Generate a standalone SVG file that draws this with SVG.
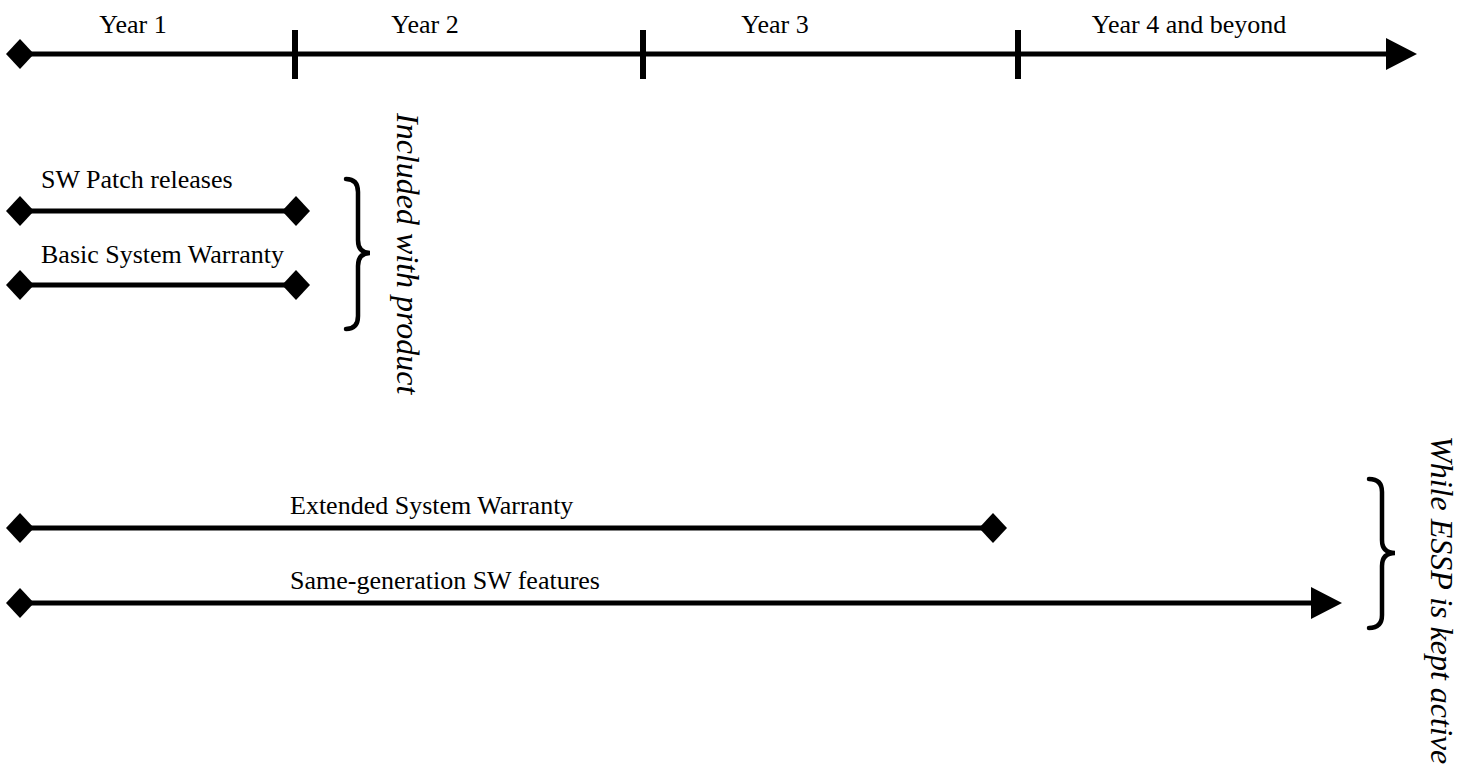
<svg xmlns="http://www.w3.org/2000/svg" width="1458" height="769" viewBox="0 0 1458 769">
<style>
.ln{stroke:#000;stroke-width:5;fill:none}
.tk{stroke:#000;stroke-width:6;fill:none}
.br{stroke:#000;stroke-width:4.5;fill:none;stroke-linecap:round}
.t{font-family:"Liberation Serif","Times New Roman",serif;font-size:26px;fill:#000}
.ti{font-family:"Liberation Serif","Times New Roman",serif;font-size:32px;font-style:italic;fill:#000}
</style>
<defs>
<path id="dm" d="M-14,0 L0,-15 L14,0 L0,15 Z" fill="#000"/>
<path id="ar" d="M-31,-16 L0,0 L-31,16 Z" fill="#000"/>
</defs>
<g id="connectors">
<line class="ln" x1="20" y1="54" x2="1390" y2="54"/>
<line class="tk" x1="295" y1="30" x2="295" y2="79"/>
<line class="tk" x1="643" y1="30" x2="643" y2="79"/>
<line class="tk" x1="1018" y1="30" x2="1018" y2="79"/>
<use href="#dm" x="20" y="54"/>
<use href="#ar" x="1417" y="54"/>
<line class="ln" x1="20" y1="211" x2="295" y2="211"/>
<use href="#dm" x="20" y="211"/>
<use href="#dm" x="296" y="211"/>
<line class="ln" x1="20" y1="285" x2="295" y2="285"/>
<use href="#dm" x="20" y="285"/>
<use href="#dm" x="296" y="285"/>
<line class="ln" x1="20" y1="528" x2="993" y2="528"/>
<use href="#dm" x="20" y="528"/>
<use href="#dm" x="993" y="528"/>
<line class="ln" x1="20" y1="603" x2="1315" y2="603"/>
<use href="#dm" x="20" y="603"/>
<use href="#ar" x="1342" y="603"/>
</g>
<g id="year-labels">
<text class="t" x="133" y="33" text-anchor="middle">Year 1</text>
<text class="t" x="425" y="33" text-anchor="middle">Year 2</text>
<text class="t" x="775" y="33" text-anchor="middle">Year 3</text>
<text class="t" x="1189" y="33" text-anchor="middle">Year 4 and beyond</text>
</g>
<g id="sw-patch"><text class="t" x="41" y="188">SW Patch releases</text></g>
<g id="basic-warranty"><text class="t" x="41" y="263">Basic System Warranty</text></g>
<g id="extended-warranty"><text class="t" x="290" y="514">Extended System Warranty</text></g>
<g id="same-gen"><text class="t" x="290" y="589">Same-generation SW features</text></g>
<g id="included">
<path class="br" d="M346,179 Q358,179 358,192 L358,240 Q358,253 370,253 Q358,253 358,266 L358,316 Q358,329 346,329"/>
<text class="ti" transform="translate(397,113) rotate(90)">Included with product</text>
</g>
<g id="essp">
<path class="br" d="M1369,479 Q1382,479 1382,492 L1382,540 Q1382,553 1395,553 Q1382,553 1382,566 L1382,615 Q1382,628 1369,628"/>
<text class="ti" transform="translate(1431,436) rotate(90)">While ESSP is kept active</text>
</g>
</svg>
